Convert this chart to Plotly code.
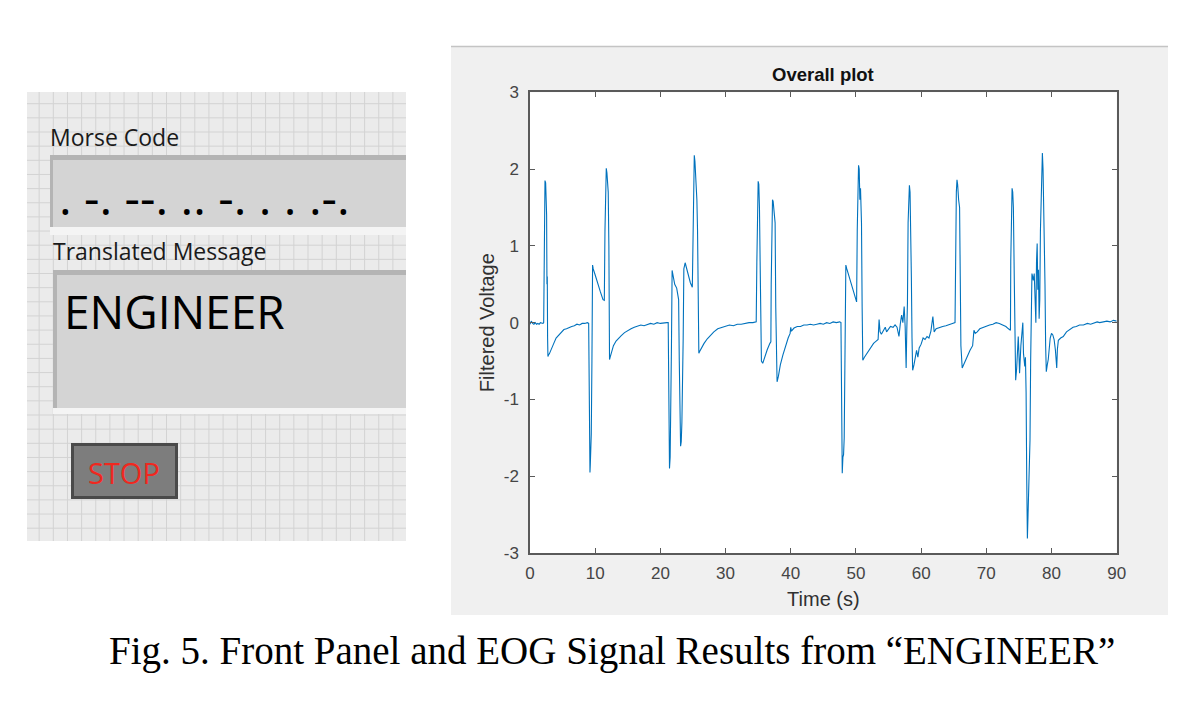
import plotly.graph_objects as go

W, H = 1200, 703

# ---------------- data ----------------
time_s = [
    0.0, 0.2, 0.4, 0.6, 0.8, 1.0, 1.2, 1.4, 1.6, 1.8, 2.0, 2.1,
    2.15, 2.2, 2.25, 2.3, 2.4, 2.45, 2.5, 2.55, 2.6, 2.65, 2.7, 2.75, 2.85,
    3.0, 3.3, 3.6, 4.0, 4.4, 4.8, 5.2, 5.6, 6.0, 6.4, 6.8, 7.2, 7.6, 8.0, 8.4, 8.8, 9.0,
    9.05, 9.1, 9.15, 9.2, 9.25, 9.3, 9.4, 9.5, 9.6, 9.7, 10.0, 10.4, 10.8, 11.2, 11.4,
    11.5, 11.6, 11.7, 11.8, 11.9, 12.0, 12.1, 12.15, 12.2, 12.3,
    12.5, 12.8, 13.2, 13.6, 14.0, 14.5, 15.0, 15.5, 16.0, 16.5, 17.0, 17.5, 18.0, 18.5, 19.0, 19.5, 20.0, 20.5, 21.0, 21.2,
    21.25, 21.3, 21.4, 21.5, 21.6, 21.7, 21.8, 21.9, 22.2, 22.5, 22.7, 22.8,
    22.9, 23.0, 23.1, 23.2, 23.3, 23.5, 23.6, 23.8, 24.0, 24.3, 24.6, 24.9,
    25.0, 25.1, 25.2, 25.3, 25.4, 25.6, 25.7, 25.8, 25.9, 26.0,
    26.3, 26.7, 27.2, 27.7, 28.2, 28.8, 29.4, 30.0, 30.6, 31.2, 31.8, 32.4, 33.0, 33.6, 34.2, 34.7,
    34.8, 34.9, 35.0, 35.1, 35.2, 35.3, 35.4, 35.5, 35.7, 36.0, 36.4, 36.8, 36.95,
    37.0, 37.1, 37.2, 37.3, 37.45, 37.6, 37.7, 37.8, 37.9, 38.1, 38.4, 38.8, 39.2, 39.6, 39.9, 40.0, 40.1,
    40.5, 41.0, 41.5, 42.0, 42.5, 43.0, 43.5, 44.0, 44.5, 45.0, 45.5, 46.0, 46.5, 47.0, 47.5, 47.7,
    47.75, 47.8, 47.9, 48.0, 48.1, 48.2, 48.35, 48.45, 48.6, 49.0, 49.4, 49.8, 50.1,
    50.2, 50.3, 50.4, 50.5, 50.6, 50.7, 50.85, 50.95, 51.05, 51.3, 51.7, 52.2, 52.7, 53.1, 53.4,
    53.55, 53.7, 53.9, 54.2, 54.5, 54.7, 55.0, 55.3, 55.7, 56.0, 56.3, 56.6, 56.8, 57.0, 57.2, 57.4, 57.55, 57.7, 57.8, 57.9,
    58.0, 58.1, 58.2, 58.3, 58.4, 58.5, 58.6, 58.7, 58.9, 59.1, 59.3, 59.5, 59.7, 60.0, 60.3, 60.6, 60.9, 61.2, 61.5, 61.8, 62.0,
    62.3, 62.8, 63.3, 63.8, 64.3, 64.8, 65.2,
    65.3, 65.4, 65.5, 65.6, 65.75, 65.9, 66.0, 66.1, 66.3, 66.5, 67.0, 67.5, 67.9, 68.0, 68.1, 68.3, 68.6,
    69.0, 69.5, 70.0, 70.5, 71.0, 71.5, 72.0, 72.5, 73.0, 73.4, 73.7,
    73.75, 73.85, 73.95, 74.05, 74.15, 74.3, 74.4, 74.5, 74.65, 74.9, 75.0, 75.1, 75.3, 75.5, 75.6, 75.7, 75.9, 76.0,
    76.1, 76.2, 76.3, 76.4, 76.5, 76.6, 76.7, 76.8, 76.9, 77.0, 77.1, 77.2, 77.35, 77.5, 77.6, 77.7, 77.8, 77.9, 78.0, 78.1, 78.2,
    78.3, 78.45, 78.6, 78.7, 78.8, 78.9, 79.0, 79.1, 79.2, 79.35, 79.5, 79.8, 80.0, 80.2, 80.4, 80.6, 80.8, 80.9,
    81.05, 81.4, 81.8, 82.3, 82.8, 83.3, 83.8, 84.3, 84.9, 85.5, 86.0, 86.5, 87.0, 87.4, 88.0, 88.5, 89.0, 89.5, 90.0,
]
voltage = [
    -0.02, 0.02, -0.01, -0.02, 0.0, -0.02, -0.01, -0.02, 0.0, -0.01, -0.01, 0.0,
    0.6, 1.5, 1.7, 1.85, 1.82, 1.6, 1.75, 1.4, 0.5, 0.6, -0.2, -0.44, -0.42,
    -0.40, -0.33, -0.28, -0.2, -0.16, -0.12, -0.09, -0.08, -0.06, -0.05, -0.04, -0.02, -0.03, -0.01, -0.01, 0.0, -0.01,
    -1.0, -1.6, -1.9, -1.95, -1.85, -1.7, -1.45, -0.5, 0.75, 0.7, 0.62, 0.5, 0.4, 0.3, 0.29,
    1.2, 1.9, 2.01, 1.95, 1.75, 1.7, 1.0, -0.3, -0.48, -0.45,
    -0.38, -0.3, -0.24, -0.2, -0.17, -0.13, -0.1, -0.08, -0.06, -0.05, -0.03, -0.04, -0.02, -0.01, -0.02, 0.0, -0.01, 0.0, 0.0, 0.0,
    -0.8, -1.5, -1.9, -1.75, -1.2, -0.3, 0.68, 0.62, 0.5, 0.45, 0.35, 0.3,
    -0.5, -1.3, -1.61, -1.55, -1.3, -0.2, 0.7, 0.78, 0.72, 0.6, 0.52, 0.46,
    1.3, 1.9, 2.18, 2.1, 1.95, 1.6, 1.2, 0.2, -0.4, -0.38,
    -0.33, -0.27, -0.21, -0.16, -0.12, -0.08, -0.06, -0.05, -0.03, -0.04, -0.02, -0.02, -0.01, 0.0, 0.0, 0.01,
    0.8, 1.7, 1.84, 1.8, 1.5, 0.8, -0.3, -0.5, -0.53, -0.45, -0.35, -0.27, -0.25,
    0.5, 1.45, 1.6, 1.58, 1.4, 1.3, 0.2, -0.7, -0.77, -0.7, -0.55, -0.42, -0.3, -0.2, -0.14, -0.06, -0.11,
    -0.07, -0.05, -0.05, -0.03, -0.03, -0.02, -0.03, -0.02, -0.01, -0.02, 0.0, -0.01, 0.01, 0.0, 0.01, 0.0,
    -1.0, -1.7, -1.96, -1.75, -1.72, -1.5, -0.2, 0.75, 0.7, 0.58, 0.45, 0.35, 0.27,
    1.2, 1.8, 2.05, 2.0, 1.6, 1.75, 1.3, 0.2, -0.49, -0.45, -0.4, -0.33, -0.27, -0.24, -0.22,
    0.04, -0.12, -0.15, -0.1, -0.06, -0.12, -0.08, -0.05, -0.06, -0.03, -0.06, -0.18, -0.02, 0.1, 0.0, 0.21, -0.05, -0.59, -0.1, 0.25,
    1.3, 1.75, 1.79, 1.7, 1.3, 0.6, -0.2, -0.62, -0.55, -0.44, -0.36, -0.45, -0.33, -0.28, -0.2, -0.22, -0.18, -0.2, -0.11, 0.08, -0.12,
    -0.08, -0.06, -0.05, -0.04, -0.02, -0.01, 0.0,
    1.0, 1.7, 1.86, 1.8, 1.6, 1.5, 0.6, -0.3, -0.59, -0.55, -0.45, -0.36, -0.3, -0.2, -0.1, -0.14, -0.12,
    -0.08, -0.06, -0.04, -0.03, -0.02, 0.0, -0.01, -0.03, -0.05, -0.08, -0.1,
    0.8, 1.6, 1.75, 1.7, 1.5, 0.5, -0.5, -0.75, -0.6, -0.18, -0.4, -0.66, -0.3, -0.05, 0.0, -0.4, -0.57, -0.45,
    -0.9, -2.05, -2.81, -2.5, -2.1, -2.0, -1.53, -0.5, 0.3, 0.64, 0.6, 0.55, 0.64, 0.3, 0.0, 0.8, 1.03, 0.43, 0.69, 0.05, 0.3,
    1.2, 1.9, 2.21, 2.0, 1.6, 1.29, 0.5, -0.3, -0.64, -0.55, -0.48, -0.2, -0.14, -0.16, -0.22, -0.36, -0.59, -0.35,
    -0.23, -0.2, -0.18, -0.12, -0.09, -0.06, -0.05, -0.03, -0.03, -0.01, -0.02, 0.0, 0.01, 0.0, 0.01, 0.02, 0.01, 0.03, 0.02,
]
assert len(time_s) == len(voltage), (len(time_s), len(voltage))

x_ticks = [0, 10, 20, 30, 40, 50, 60, 70, 80, 90]
x_tick_labels = ["0", "10", "20", "30", "40", "50", "60", "70", "80", "90"]
y_ticks = [-3, -2, -1, 0, 1, 2, 3]
y_tick_labels = ["-3", "-2", "-1", "0", "1", "2", "3"]

plot_title = "Overall plot"
x_title = "Time (s)"
y_title = "Filtered Voltage"
morse_label = "Morse Code"
morse_text = ". -. --. .. -. . . .-."
message_label = "Translated Message"
message_text = "ENGINEER"
button_text = "STOP"
caption = "Fig. 5. Front Panel and EOG Signal Results from \u201cENGINEER\u201d"

# ---------------- helpers (pixel -> paper) ----------------
def px(x):
    return x / W


def py(y):
    return 1 - y / H


def rect(x0, y0, x1, y1, fill, line=None, lw=0):
    return dict(type="rect", xref="paper", yref="paper",
                x0=px(x0), x1=px(x1), y0=py(y1), y1=py(y0),
                fillcolor=fill, line=dict(color=line or fill, width=lw),
                layer="below")


def hline(x0, x1, y, color, w=1):
    return dict(type="line", xref="paper", yref="paper",
                x0=px(x0), x1=px(x1), y0=py(y), y1=py(y),
                line=dict(color=color, width=w), layer="below")


def vline(x, y0, y1, color, w=1):
    return dict(type="line", xref="paper", yref="paper",
                x0=px(x), x1=px(x), y0=py(y0), y1=py(y1),
                line=dict(color=color, width=w), layer="below")


def txt(s, x, y, size, family, color="#000000", xanchor="left", yanchor="middle"):
    return dict(text=s, x=px(x), y=py(y), xref="paper", yref="paper",
                xanchor=xanchor, yanchor=yanchor, showarrow=False,
                font=dict(family=family, size=size, color=color))


shapes = []

# ---------- left: LabVIEW-like front panel ----------
LP_X0, LP_X1, LP_Y0, LP_Y1 = 27, 406, 92, 541
shapes.append(rect(LP_X0, LP_Y0, LP_X1, LP_Y1, "#ebebeb"))
step = 14.15
gx = 39.15
while gx < LP_X1:
    shapes.append(vline(gx, LP_Y0, LP_Y1, "#d3d3d3", 1))
    gx += step
gy = 103.7
while gy < LP_Y1:
    shapes.append(hline(LP_X0, LP_X1, gy, "#d3d3d3", 1))
    gy += step

# Morse code indicator
shapes.append(rect(50, 227, LP_X1, 235, "#f4f4f4"))
shapes.append(rect(50, 155, LP_X1, 160, "#b4b4b4"))
shapes.append(rect(50, 155, 53, 227, "#b4b4b4"))
shapes.append(rect(53, 160, LP_X1, 227, "#d4d4d4"))
# Translated message indicator
shapes.append(rect(53, 408, LP_X1, 414, "#f4f4f4"))
shapes.append(rect(53, 270, LP_X1, 275, "#b4b4b4"))
shapes.append(rect(53, 270, 57, 408, "#b4b4b4"))
shapes.append(rect(57, 275, LP_X1, 408, "#d4d4d4"))
# STOP button
shapes.append(rect(71, 443, 178, 499, "#4a4a4a"))
shapes.append(rect(74, 446, 175, 496, "#7d7d7d"))

# ---------- right: MATLAB-like figure window ----------
shapes.append(rect(451, 47, 1168, 615, "#f0f0f0"))
shapes.append(hline(451, 1168, 46.5, "#c4c4c4", 1.5))
PX0, PX1, PY0, PY1 = 530, 1116.7, 92.3, 553
shapes.append(rect(PX0, PY0, PX1, PY1, "#ffffff"))

annotations = [
    txt(morse_label, 48, 137, 23, "Open Sans", "#1a1a1a"),
    txt(morse_text, 57, 196, 48, "Open Sans", "#000000"),
    txt(message_label, 51, 251, 23, "Open Sans", "#1a1a1a"),
    txt(message_text, 62, 311, 46, "Open Sans", "#000000"),
    txt(button_text, 124, 472, 29, "Open Sans", "#f0281f", xanchor="center"),
    txt("<b>" + plot_title + "</b>", 823.3, 74.5, 18.5, "Liberation Sans, Arial", "#111111", xanchor="center"),
    txt(caption, 611.5, 651, 39, "Liberation Serif, Times New Roman", "#000000", xanchor="center"),
]

fig = go.Figure()
fig.add_trace(go.Scatter(
    x=time_s, y=voltage, mode="lines",
    line=dict(color="#0072BD", width=1.1),
    hoverinfo="skip", showlegend=False,
))

axis_style = dict(
    showgrid=False, zeroline=False, showline=True, automargin=False,
    linecolor="#5a5a5a", linewidth=1.5, mirror="ticks",
    ticks="inside", ticklen=5, tickwidth=1.2, tickcolor="#5a5a5a",
    tickfont=dict(family="Liberation Sans, Arial", size=17, color="#454545"),
    fixedrange=True,
)

fig.update_layout(
    width=W, height=H, autosize=False,
    margin=dict(l=0, r=0, t=0, b=0, pad=0, autoexpand=False),
    paper_bgcolor="#ffffff", plot_bgcolor="#ffffff",
    xaxis=dict(
        domain=[px(PX0), px(PX1)], range=[0, 90],
        tickmode="array", tickvals=x_ticks, ticktext=x_tick_labels,
        ticklabelstandoff=4,
        title=dict(text=x_title, standoff=10,
                   font=dict(family="Liberation Sans, Arial", size=20, color="#303030")),
        **axis_style,
    ),
    yaxis=dict(
        domain=[py(PY1), py(PY0)], range=[-3, 3],
        tickmode="array", tickvals=y_ticks, ticktext=y_tick_labels,
        ticklabelstandoff=6,
        title=dict(text=y_title, standoff=4,
                   font=dict(family="Liberation Sans, Arial", size=20, color="#303030")),
        **axis_style,
    ),
    shapes=shapes,
    annotations=annotations,
    showlegend=False,
)

fig.write_html("out.html")
